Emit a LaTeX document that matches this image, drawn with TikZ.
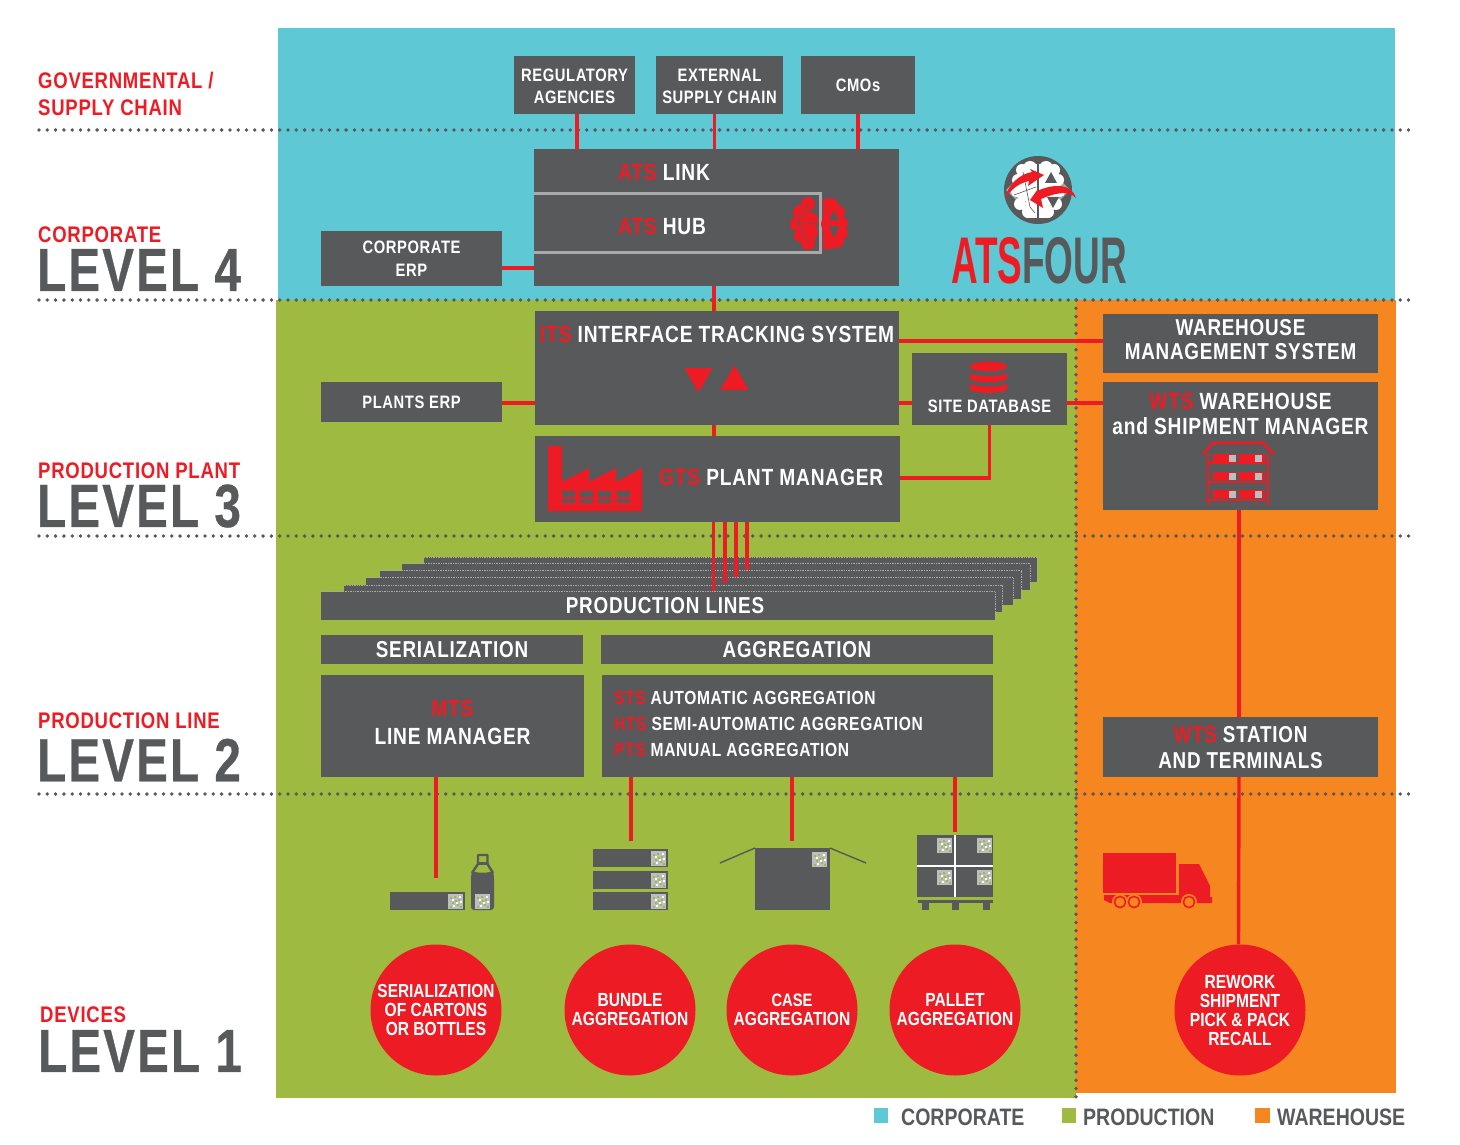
\documentclass[tikz,border=0pt]{standalone}
\usepackage{fontspec}
\usepackage{tikz}
\usetikzlibrary{arrows.meta}
\setmainfont[FakeStretch=0.82,LetterSpace=3.3]{Liberation Sans}
\newfontfamily\plainfont[FakeStretch=0.82]{Liberation Sans}
\newfontfamily\levelfont[FakeStretch=0.78,LetterSpace=3.5,FakeBold=0.5]{Liberation Sans}
\newfontfamily\brandfont[FakeStretch=0.56]{Liberation Sans}
\definecolor{atsgray}{HTML}{58595B}
\definecolor{atsred}{HTML}{ED1C24}
\definecolor{atsblue}{HTML}{5EC8D5}
\definecolor{atsgreen}{HTML}{9FBA40}
\definecolor{atsorange}{HTML}{F6861F}
\definecolor{hubline}{HTML}{A7A9AC}
\definecolor{qrgray}{HTML}{BDBEC0}
\newcommand{\rd}[1]{\textcolor{atsred}{#1}}
\tikzset{
	fsz/.style 2 args={font=\fontsize{#1}{#2}\selectfont\bfseries},
	box/.style={fill=atsgray,text=white,align=center,inner sep=0pt},
	boxtxt/.style={text=white,align=center,inner sep=0pt},
	redline/.style={draw=atsred,line width=3.4pt},
	dotline/.style={draw=atsgray,line width=3.8pt,line cap=round,dash pattern=on 0pt off 8.3pt},
	disc/.style={circle,fill=atsred,text=white,align=center,inner sep=0pt,minimum size=131pt,font=\fontsize{19}{19}\selectfont\plainfont\bfseries},
	lefthead/.style={anchor=west,text=atsred,align=left,inner sep=0pt,fsz={22.6}{27}},
	levelhead/.style={anchor=west,text=atsgray,inner sep=0pt,font=\fontsize{61}{61}\selectfont\levelfont\bfseries},
	legendtxt/.style={anchor=west,text=atsgray,inner sep=0pt,font=\fontsize{23.8}{24}\selectfont\plainfont\bfseries},
	qrtag/.pic={
		\fill[qrgray] (0,0) rectangle (15,15);
		\foreach \i/\j in {2/3,6/2,10/5,4/8,9/10,12/12,2/12,7/6}
			\fill[atsgreen] (\i,\j) rectangle (\i+2.4,\j+2.4);
		\foreach \i/\j in {4/5,8/8,11/2,5/11,12/7}
			\fill[white] (\i,\j) rectangle (\i+1.6,\j+1.6);
	}
}
\begin{document}
\begin{tikzpicture}[x=1pt,y=-1pt]
	\useasboundingbox (0,0) rectangle (1460,1145);
	\fill[atsblue] (278,28) rectangle (1395,300);
	\fill[atsgreen] (276,300) rectangle (1076,1098);
	\fill[atsorange] (1076,300) rectangle (1396,1093);

	\foreach \y in {130,300,536,794}
	\draw[dotline] (39,\y) -- (1409,\y);
	\draw[dotline] (1076,300) -- (1076,1098);

	\node[lefthead] (govhead) at (38,94) {GOVERNMENTAL /\\SUPPLY CHAIN};
	\node[lefthead] (corphead) at (38,235) {CORPORATE};
	\node[levelhead] (levelfour) at (37,270) {LEVEL 4};
	\node[lefthead] (planthead) at (38,471) {PRODUCTION PLANT};
	\node[levelhead] (levelthree) at (37,506) {LEVEL 3};
	\node[lefthead] (linehead) at (38,721) {PRODUCTION LINE};
	\node[levelhead] (leveltwo) at (37,760) {LEVEL 2};
	\node[lefthead] (devhead) at (40,1015) {DEVICES};
	\node[levelhead] (levelone) at (38,1051) {LEVEL 1};

	\node[box,fsz={18}{22},minimum width=121pt,minimum height=58pt] (regul) at (574.5,85) {};
	\node[box,fsz={18}{22},minimum width=127pt,minimum height=58pt] (extern) at (719.5,85) {};
	\node[box,fsz={18}{22},minimum width=114pt,minimum height=58pt] (cmos) at (858,85) {CMOs};
	\node[box,minimum width=365pt,minimum height=137pt] (ats) at (716.5,217.5) {};
	\node[box,fsz={18}{23},minimum width=181pt,minimum height=55pt] (corperp) at (411.5,258.5) {CORPORATE\\ERP};
	\node[box,fsz={18}{22},minimum width=181pt,minimum height=40pt] (planterp) at (411.5,402) {PLANTS ERP};
	\node[box,minimum width=364pt,minimum height=114pt] (its) at (717,368) {};
	\node[box,minimum width=365pt,minimum height=86pt] (gts) at (717.5,479) {};
	\node[box,minimum width=155pt,minimum height=72pt] (sitedb) at (989.5,389) {};
	\node[box,minimum width=275pt,minimum height=59pt] (wms) at (1240.5,343.5) {};
	\node[box,minimum width=275pt,minimum height=128pt] (wts) at (1240.5,446) {};
	\node[box,minimum width=275pt,minimum height=60pt] (station) at (1240.5,747) {};

	\foreach \l/\t/\r/\b in {424/557/1037/582,402/563.5/1030/590,380/570.5/1021/599,366/577.5/1013/605,343.5/585/1002/612} {
		\fill[atsgray] (\l,\t) rectangle (\r,\b);
		\draw[hubline,line width=0.7pt,densely dotted] (\l,\t) -- (\r,\t) -- (\r,\b);
	}
	\foreach \x/\e in {713.5/592,725/583,736/577,747/570}
	\draw[redline] (\x,0 |- gts.south) -- (\x,\e);
	\node[box,fsz={23}{23},minimum width=674pt,minimum height=28pt] (prodlines) at (658,606) {\hspace*{14pt}PRODUCTION LINES};
	\draw[hubline,line width=0.7pt,densely dotted] (prodlines.north west) -- (prodlines.north east) -- (prodlines.south east);
	\node[box,fsz={23}{23},minimum width=262pt,minimum height=29pt] (serial) at (452,649.5) {SERIALIZATION};
	\node[box,fsz={23}{23},minimum width=392pt,minimum height=29pt] (aggreg) at (797,649.5) {AGGREGATION};
	\node[box,minimum width=263pt,minimum height=102pt] (linemgr) at (452.5,726) {};
	\node[box,minimum width=391pt,minimum height=102pt] (agglist) at (797.5,726) {};

	\node[boxtxt,fsz={18}{22}] (regultxt) at (574.5,86) {REGULATORY\\AGENCIES};
	\node[boxtxt,fsz={18}{22}] (externtxt) at (719.5,86) {EXTERNAL\\SUPPLY CHAIN};
	\node[anchor=west,boxtxt,fsz={23.4}{23}] (linktxt) at (618,172) {\rd{ATS} LINK};
	\node[anchor=west,boxtxt,fsz={23.4}{23}] (hubtxt) at (618,226) {\rd{ATS} HUB};
	\node[anchor=west,boxtxt,fsz={23.4}{23}] (itstxt) at (540,334) {\rd{ITS} INTERFACE TRACKING SYSTEM};
	\node[anchor=west,boxtxt,fsz={23.4}{23}] (gtstxt) at (659,477) {\rd{GTS} PLANT MANAGER};
	\node[anchor=north,boxtxt,fsz={18}{18}] (sitetxt) at (989.5,400) {SITE DATABASE};
	\node[boxtxt,fsz={23}{23.5}] (wmstxt) at (1240.5,339.5) {WAREHOUSE\\MANAGEMENT SYSTEM};
	\node[anchor=north,boxtxt,fsz={23.4}{25.5}] (wtstxt) at (1240.5,392.5) {\rd{WTS} WAREHOUSE\\and SHIPMENT MANAGER};
	\node[boxtxt,fsz={23}{26}] (stationtxt) at (1240.5,748) {\rd{WTS} STATION\\AND TERMINALS};
	\node[boxtxt,fsz={23.4}{28}] (mgrtxt) at (452.5,722) {\rd{MTS}\\LINE MANAGER};
	\node[anchor=north west,text=white,align=left,inner sep=0pt,fsz={19}{26}] (aggtxt) at (614,691) {\rd{STS} AUTOMATIC AGGREGATION\\\rd{HTS} SEMI-AUTOMATIC AGGREGATION\\\rd{PTS} MANUAL AGGREGATION};

	\draw[draw=hubline,line width=3pt] (534,194) -- (820.5,194) -- (820.5,252) -- (534,252);

	\draw[redline] ([xshift=2.5pt]regul.south) -- ([xshift=2.5pt]regul.south |- ats.north);
	\draw[redline] ([xshift=-5pt]extern.south) -- ([xshift=-5pt]extern.south |- ats.north);
	\draw[redline] (cmos.south) -- (cmos.south |- ats.north);
	\draw[redline] (corperp.east |- 0,268) -- (ats.west |- 0,268);
	\draw[redline] ([xshift=-2.5pt]ats.south) -- ([xshift=-2.5pt]ats.south |- its.north);
	\draw[redline] (planterp.east |- 0,403) -- (its.west |- 0,403);
	\draw[redline] ([xshift=-3pt]its.south) -- ([xshift=-3pt]its.south |- gts.north);
	\draw[redline] (its.east |- 0,341) -- (wms.west |- 0,341);
	\draw[redline] (its.east |- 0,403) -- (sitedb.west |- 0,403);
	\draw[redline] (sitedb.east |- 0,403) -- (wts.west |- 0,403);
	\draw[redline] (sitedb.south) |- (gts.east |- 0,478);
	\draw[redline] ([xshift=-1.5pt]wts.south) -- ([xshift=-1.5pt]station.north);

	\node[disc] (serdisc) at (436,1010) {\fontsize{18.8}{19}\selectfont SERIALIZATION\\OF CARTONS\\OR BOTTLES};
	\node[disc] (bundisc) at (630,1010) {BUNDLE\\AGGREGATION};
	\node[disc] (casedisc) at (792,1010) {\fontsize{18}{19}\selectfont CASE\\AGGREGATION};
	\node[disc] (paldisc) at (955,1010) {PALLET\\AGGREGATION};
	\node[disc] (rewdisc) at (1240,1010) {REWORK\\SHIPMENT\\PICK \& PACK\\RECALL};
	\draw[redline] ([xshift=-1.5pt]station.south) -- ([xshift=-1.5pt]rewdisc.north);

	\coordinate (cartontop) at (436,878);
	\coordinate (bundletop) at (631,841);
	\coordinate (casetop) at (792,841);
	\coordinate (pallettop) at (955,832);
	\draw[redline] (linemgr.south -| cartontop) -- (cartontop);
	\draw[redline] (agglist.south -| bundletop) -- (bundletop);
	\draw[redline] (agglist.south -| casetop) -- (casetop);
	\draw[redline] (agglist.south -| pallettop) -- (pallettop);

	% devices
	\fill[atsgray] (390,892) rectangle (465,910);
	\pic at (448,894) {qrtag};
	\draw[atsgray,line width=2.4pt,line join=round] (472,873) -- (478,864) -- (478,855) -- (487.5,855) -- (487.5,864) -- (493,873);
	\draw[atsgray,line width=2.4pt] (478,863.5) -- (487.5,863.5);
	\fill[atsgray,rounded corners=3pt] (471,876) -- (472,871) .. controls (478,873) and (487,873) .. (493,871) -- (494,876) -- (494,910) -- (471,910) -- cycle;
	\pic at (475,894) {qrtag};
	\foreach \y in {849,871,892} {
		\fill[atsgray] (593,\y) rectangle (668,\y+18);
		\pic at (651,\y+2) {qrtag};
	}
	\fill[atsgray] (755,848) rectangle (830,910);
	\draw[atsgray,line width=1.4pt] (720,863) -- (755,848) (830,848) -- (866,863);
	\pic at (812,852) {qrtag};
	\fill[atsgray] (917,835) rectangle (993,897);
	\draw[white,line width=2.4pt] (955,835) -- (955,897) (917,866) -- (993,866);
	\foreach \i/\j in {937/838,977/838,937/870,977/870}
	\pic at (\i,\j) {qrtag};
	\fill[atsgray] (918,900) rectangle (993,903);
	\foreach \x in {922,952,983}
	\fill[atsgray] (\x,903) rectangle (\x+7,910);

	\fill[atsred] (1103,853) rectangle (1176,893);
	\fill[atsred] (1179,864) -- (1199,864) -- (1210,886) -- (1210,897) -- (1212,897) -- (1212,903) -- (1110,903) -- (1104,900) -- (1104,895) -- (1179,895) -- cycle;
	\foreach \x in {1120,1134,1189} {
		\fill[atsorange] (\x,902) circle (8);
		\draw[atsred,line width=1.6pt] (\x,902) circle (5.6);
	}

	% icons in the boxes
	\fill[atsred] (548,446) -- (562,446) -- (562,482) -- (589,468) -- (589,482) -- (616,468) -- (616,482) -- (642,468) -- (642,511) -- (548,511) -- cycle;
	\foreach \x in {562,580,598,617} {
		\fill[atsgray] (\x,491) rectangle (\x+12.5,497);
		\fill[atsgray] (\x,498.5) rectangle (\x+12.5,503);
	}
	\fill[atsred,draw=atsred,line width=2pt,line join=round] (686,369) -- (711,369) -- (698.5,390.5) -- cycle;
	\fill[atsred,draw=atsred,line width=2pt,line join=round] (722,389) -- (747,389) -- (734.5,367) -- cycle;

	\fill[atsred] (988.5,366.5) ellipse (18.5 and 5);
	\foreach \y in {373,383.5}
	\fill[atsred] (970,\y) .. controls (975,\y+4) and (1002,\y+4) .. (1007,\y) -- (1007,\y+6) .. controls (1002,\y+10.5) and (975,\y+10.5) .. (970,\y+6) -- cycle;

	\draw[atsred,line width=2.6pt] (1208,505) -- (1208,454) (1268,505) -- (1268,454);
	\draw[atsred,line width=2.6pt] (1203,454) -- (1213,443) -- (1263,443) -- (1274,454);
	\foreach \y in {463,482,500}
	\draw[atsred,line width=2pt] (1208,\y) -- (1268,\y);
	\foreach \y in {454,472,490} {
		\fill[atsred] (1213,\y) rectangle (1236,\y+8);
		\fill[atsred] (1239,\y) rectangle (1265,\y+8);
		\fill[qrgray] (1229,\y+0.5) rectangle (1236,\y+7.5);
		\fill[qrgray] (1255,\y+0.5) rectangle (1262,\y+7.5);
	}

	\fill[atsred] (808,204) circle (7) (800,212) circle (7) (797,224) circle (7) (800,236) circle (6) (808,243) circle (7) (810,220) circle (8) (810,232) circle (8);
	\draw[atsgray,line width=0.6pt] (797,222) -- (808,204) (797,222) -- (808,243) (797,222) -- (816,224);
	\fill[atsred] (823,199) rectangle (832,249);
	\fill[atsred] (831,205) circle (7) (838,212) circle (7) (842,223) circle (6) (842,233) circle (6) (837,241) circle (7) (830,243) circle (6) (830,224) circle (9);
	\fill[atsgray] (829,220) -- (839,220) -- (834,211) -- cycle;
	\fill[atsgray] (829,226) -- (839,226) -- (834,237) -- cycle;

	% logo
	\fill[atsgray] (1038,190) circle (34);
	\fill[hubline] (1006,190) -- (1018,178) -- (1018,202) -- cycle (1070,190) -- (1058,178) -- (1058,202) -- cycle;
	\fill[white] (1022,170) circle (6) (1030,168) circle (7) (1018,180) circle (6) (1016,192) circle (5) (1020,204) circle (6) (1028,212) circle (6) (1026,190) circle (11);
	\fill[white] (1026,164) rectangle (1037,218);
	\fill[white] (1054,170) circle (6) (1046,168) circle (7) (1058,180) circle (6) (1060,192) circle (5) (1056,204) circle (6) (1048,212) circle (6) (1050,190) circle (11);
	\fill[white] (1039,164) rectangle (1050,218);
	\draw[atsgray,line width=0.6pt] (1023,172) -- (1030,207) -- (1035,213) (1014,195) -- (1036,187);
	\fill[atsgray] (1045,183) -- (1057,183) -- (1051,172) -- cycle;
	\fill[atsgray] (1047,197) -- (1059,197) -- (1053,208) -- cycle;
	\fill[atsred] (1005,199) .. controls (1008,184) and (1020,174) .. (1032,172) -- (1030,169) -- (1044,175) -- (1028,186) -- (1029,181) .. controls (1019,183) and (1010,190) .. (1005,199) -- cycle;
	\fill[atsred] (1076,198) .. controls (1072,184) and (1055,183) .. (1037,191) -- (1038,189) -- (1030,200) -- (1043,208) -- (1041,199) .. controls (1055,193) and (1068,190) .. (1076,198) -- cycle;

	\node[anchor=base west,inner sep=0pt,font=\fontsize{66}{66}\selectfont\brandfont\bfseries] (brand) at (951,283) {\rd{ATS}\textcolor{atsgray}{FOUR}};

	% legend
	\fill[atsblue] (874,1108) rectangle (888,1123);
	\node[legendtxt] (legcorp) at (901,1117) {CORPORATE};
	\fill[atsgreen] (1062,1108) rectangle (1076,1123);
	\node[legendtxt] (legprod) at (1083,1117) {PRODUCTION};
	\fill[atsorange] (1255,1108) rectangle (1270,1123);
	\node[legendtxt] (legware) at (1277,1117) {WAREHOUSE};
\end{tikzpicture}
\end{document}
